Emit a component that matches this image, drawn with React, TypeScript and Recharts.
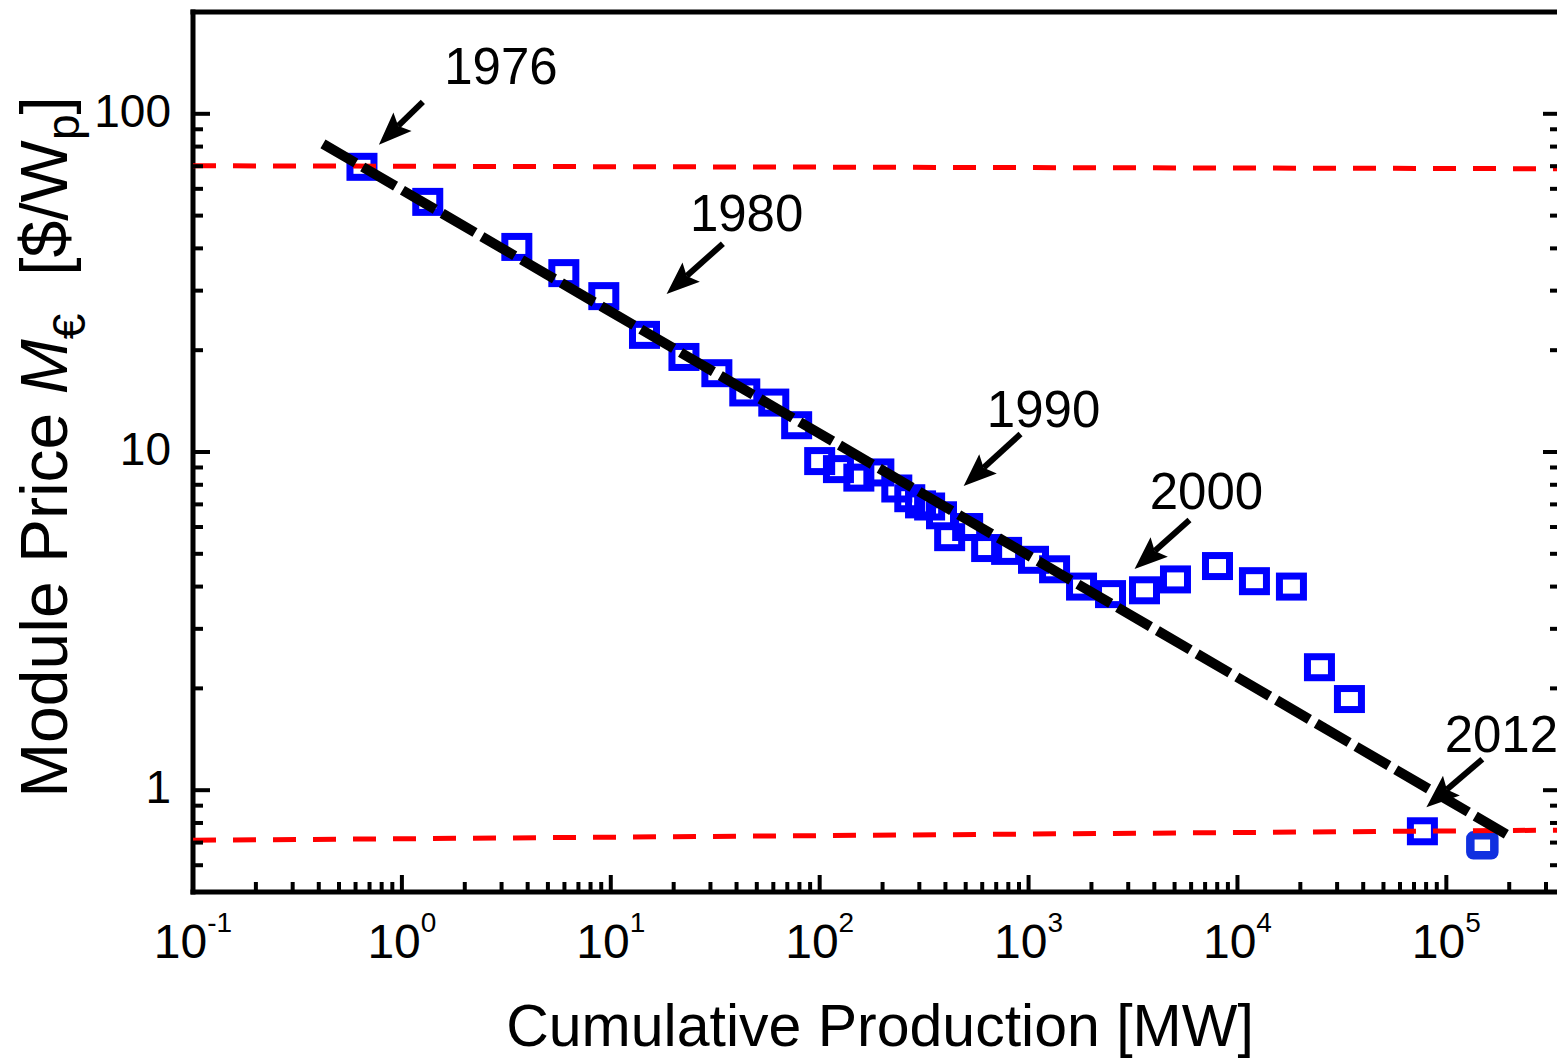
import React from "react";
import { ScatterChart, Scatter, XAxis, YAxis, ReferenceLine, ReferenceDot } from "recharts";

// cumulative production [MW] vs. module price [$/Wp], 1976 .. 2013
const production = [
  0.644, 1.33, 3.55, 5.96, 9.26, 14.5, 22.4, 32.2, 43.8, 60.3, 77.6, 100, 123, 154, 192, 234, 270, 304, 336,
  383, 419, 511, 630, 785, 1056, 1332, 1793, 2468, 3589, 5050, 8025, 12060, 18130, 24690, 34360, 76800, 148700,
];
const price = [
  69.7, 54.9, 40.4, 33.8, 28.9, 22.2, 19.1, 17.1, 15.0, 14.0, 12.0, 9.4, 8.9, 8.4, 8.7, 7.8, 7.3, 7.0, 6.9,
  6.5, 5.6, 6.0, 5.2, 5.1, 4.8, 4.5, 4.0, 3.8, 3.9, 4.2, 4.6, 4.15, 4.0, 2.31, 1.86, 0.756, 0.687,
];

// learning curve fit (black dashed)
const fitX = [0.419, 193700];
const fitY = [81.5, 0.741];

// red dashed guide lines
const guideX = [0.1, 3.5e5];
const upperY = [70.2, 68.8];
const lowerY = [0.711, 0.762];

// year annotations
const years = ["1976", "1980", "1990", "2000", "2012"];
const labelX = [2.98, 44.7, 1180, 7107, 183400];
const labelY = [122.7, 45.1, 11.86, 6.78, 1.3];
const tailX = [1.26, 34.4, 915, 5892, 148700];
const tailY = [108.5, 41.3, 11.3, 6.29, 1.235];
const headX = [0.776, 18.5, 489, 3216, 80240];
const headY = [81.0, 29.3, 7.93, 4.51, 0.891];

// axes
const X_DOMAIN = [0.1, 3.5e5];
const Y_DOMAIN = [0.5, 200];
const xMajor = [0.1, 1, 10, 100, 1000, 10000, 100000];
const xExponents = ["-1", "0", "1", "2", "3", "4", "5"];
const yMajor = [1, 10, 100];
const yLabels = ["1", "10", "100"];

const xTicks = [...xMajor];
xMajor.forEach((d) => {
  for (let k = 2; k <= 9; k++) if (d * k < X_DOMAIN[1]) xTicks.push(d * k);
});
xTicks.sort((a, b) => a - b);
const yTicks = [...yMajor];
[0.1, 1, 10].forEach((d) => {
  for (let k = 2; k <= 9; k++) if (d * k > Y_DOMAIN[0] && d * k < Y_DOMAIN[1]) yTicks.push(d * k);
});
yTicks.sort((a, b) => a - b);

const points = production.map((x, i) => ({ x, y: price[i] }));
const fitLine = fitX.map((x, i) => ({ x, y: fitY[i] }));
const upperLine = guideX.map((x, i) => ({ x, y: upperY[i] }));
const lowerLine = guideX.map((x, i) => ({ x, y: lowerY[i] }));

const MAJOR = 17;
const MINOR = 10;
const axisLine = { stroke: "#000", strokeWidth: 5, strokeLinecap: "square" as const };

function BottomTick(p: any) {
  const { x, y, payload } = p;
  const i = xMajor.indexOf(payload.value);
  return (
    <g>
      <line x1={x} x2={x} y1={y} y2={y - (i >= 0 ? MAJOR : MINOR)} stroke="#000" strokeWidth={4} />
      {i >= 0 && (
        <text x={x} y={y + 66} textAnchor="middle" fontSize={48} fill="#000">
          10
          <tspan dy={-26} fontSize={28}>
            {xExponents[i]}
          </tspan>
        </text>
      )}
    </g>
  );
}

function TopTick(p: any) {
  const { x, y, payload } = p;
  const major = xMajor.includes(payload.value);
  return <line x1={x} x2={x} y1={y} y2={y + (major ? MAJOR : MINOR)} stroke="#000" strokeWidth={4} />;
}

function LeftTick(p: any) {
  const { x, y, payload } = p;
  const i = yMajor.indexOf(payload.value);
  return (
    <g>
      <line x1={x} x2={x + (i >= 0 ? MAJOR : MINOR)} y1={y} y2={y} stroke="#000" strokeWidth={4} />
      {i >= 0 && (
        <text x={x - 22} y={y + 13} textAnchor="end" fontSize={46} fill="#000">
          {yLabels[i]}
        </text>
      )}
    </g>
  );
}

function RightTick(p: any) {
  const { x, y, payload } = p;
  const major = yMajor.includes(payload.value);
  return <line x1={x} x2={x - (major ? MAJOR : MINOR)} y1={y} y2={y} stroke="#000" strokeWidth={4} />;
}

function Square(p: any) {
  const { cx, cy, payload } = p;
  if (cx == null || cy == null) return <g />;
  const last = payload && payload.x === production[production.length - 1];
  if (last) {
    return (
      <rect x={cx - 12} y={cy - 10} width={24} height={20} rx={3} fill="none" stroke="#1030e0" strokeWidth={8.5} />
    );
  }
  return <rect x={cx - 12} y={cy - 10.5} width={24} height={21} fill="none" stroke="#0000ff" strokeWidth={7} />;
}

const NoDot = () => <g />;

function Arrow(p: any) {
  const { x1, y1, x2, y2 } = p;
  const dx = x2 - x1;
  const dy = y2 - y1;
  const len = Math.hypot(dx, dy) || 1;
  const ux = dx / len;
  const uy = dy / len;
  const hl = 33;
  const hw = 13;
  const bx = x2 - ux * hl;
  const by = y2 - uy * hl;
  const nx = bx + ux * 6;
  const ny = by + uy * 6;
  return (
    <g>
      <line x1={x1} y1={y1} x2={nx} y2={ny} stroke="#000" strokeWidth={6} />
      <polygon
        points={`${x2},${y2} ${bx - uy * hw},${by + ux * hw} ${nx},${ny} ${bx + uy * hw},${by - ux * hw}`}
        fill="#000"
      />
    </g>
  );
}

function XTitle() {
  return (
    <text x={880} y={1046} textAnchor="middle" fontSize={59} fill="#000">
      Cumulative Production [MW]
    </text>
  );
}

function YTitle() {
  return (
    <text transform="translate(67,447) rotate(-90)" textAnchor="middle" fontSize={66} fill="#000">
      Module Price{" "}
      <tspan fontStyle="italic">M</tspan>
      <tspan dy={18} fontSize={46}>
        €
      </tspan>
      <tspan dy={-18} dx={38}>
        [$/W
      </tspan>
      <tspan dy={12} fontSize={46}>
        p
      </tspan>
      <tspan dy={-12}>]</tspan>
    </text>
  );
}

export default function App() {
  return (
    <div
      style={{
        position: "absolute",
        left: 0,
        top: 0,
        width: 1557,
        height: 1060,
        overflow: "hidden",
        background: "#fff",
        fontFamily: '"Liberation Sans", Arial, sans-serif',
      }}
    >
      <ScatterChart width={1570} height={1060} margin={{ top: 0, right: 0, bottom: 0, left: 0 }}>
        <XAxis
          dataKey="x"
          type="number"
          scale="log"
          domain={X_DOMAIN}
          allowDataOverflow
          ticks={xTicks}
          interval={0}
          tick={BottomTick}
          tickSize={0}
          tickMargin={0}
          tickLine={false}
          axisLine={axisLine}
          height={168}
          label={XTitle}
        />
        <XAxis
          xAxisId="top"
          orientation="top"
          type="number"
          scale="log"
          domain={X_DOMAIN}
          allowDataOverflow
          ticks={xTicks}
          interval={0}
          tick={TopTick}
          tickSize={0}
          tickMargin={0}
          tickLine={false}
          axisLine={axisLine}
          height={12}
        />
        <YAxis
          dataKey="y"
          type="number"
          scale="log"
          domain={Y_DOMAIN}
          allowDataOverflow
          ticks={yTicks}
          interval={0}
          tick={LeftTick}
          tickSize={0}
          tickMargin={0}
          tickLine={false}
          axisLine={axisLine}
          width={193}
          label={YTitle}
        />
        <YAxis
          yAxisId="right"
          orientation="right"
          type="number"
          scale="log"
          domain={Y_DOMAIN}
          allowDataOverflow
          ticks={yTicks}
          interval={0}
          tick={RightTick}
          tickSize={0}
          tickMargin={0}
          tickLine={false}
          axisLine={axisLine}
          width={10}
        />
        <Scatter data={points} shape={Square} isAnimationActive={false} />
        <Scatter
          data={upperLine}
          shape={NoDot}
          line={{ stroke: "#ff0000", strokeWidth: 5, strokeDasharray: "23 17", fill: "none" }}
          isAnimationActive={false}
        />
        <Scatter
          data={lowerLine}
          shape={NoDot}
          line={{ stroke: "#ff0000", strokeWidth: 5, strokeDasharray: "23 17", fill: "none" }}
          isAnimationActive={false}
        />
        <Scatter
          data={fitLine}
          shape={NoDot}
          line={{ stroke: "#000", strokeWidth: 10, strokeDasharray: "38 8", fill: "none" }}
          isAnimationActive={false}
        />
        {years.map((yr, i) => (
          <ReferenceLine
            key={"a" + yr}
            segment={[
              { x: tailX[i], y: tailY[i] },
              { x: headX[i], y: headY[i] },
            ]}
            ifOverflow="visible"
            shape={Arrow}
          />
        ))}
        {years.map((yr, i) => (
          <ReferenceDot
            key={"t" + yr}
            x={labelX[i]}
            y={labelY[i]}
            ifOverflow="visible"
            shape={(p: any) => (
              <text x={p.cx} y={p.cy} textAnchor="middle" fontSize={51} fill="#000">
                {yr}
              </text>
            )}
          />
        ))}
      </ScatterChart>
    </div>
  );
}
